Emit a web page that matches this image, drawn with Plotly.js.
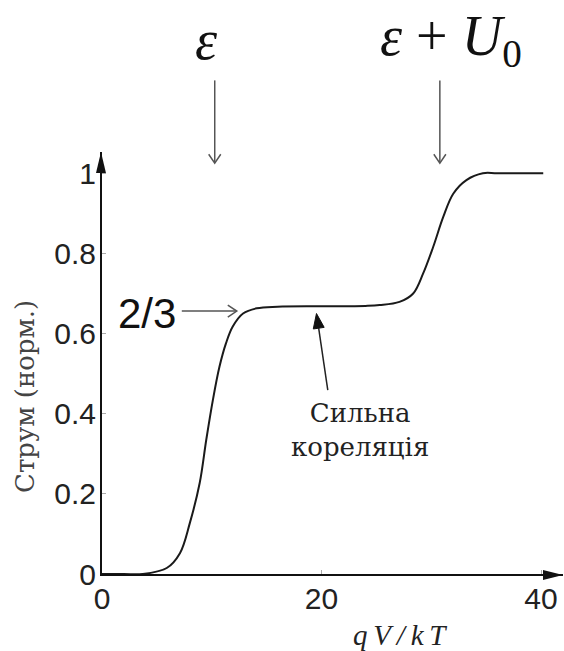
<!DOCTYPE html>
<html>
<head>
<meta charset="utf-8">
<script src="https://cdn.plot.ly/plotly-3.0.1.min.js"></script>
<style>
  html, body { margin: 0; padding: 0; background: #fff; }
  #chart { width: 564px; height: 651px; }
</style>
</head>
<body>
<div id="chart"></div>
<script>
// ---- data ----
const voltage = [0, 2, 3.7, 5.9, 7.1, 8.0, 8.9, 9.5, 10.1, 10.7, 11.3, 11.9, 12.85, 14.1, 16, 20, 24, 25.3, 27.1, 28.35, 29.26, 30.17, 31.09, 32.0, 33.2, 34.7, 36, 40.2];
const current = [0, 0, 0, 0.015, 0.052, 0.127, 0.227, 0.335, 0.434, 0.517, 0.576, 0.617, 0.650, 0.663, 0.667, 0.668, 0.669, 0.671, 0.679, 0.700, 0.750, 0.816, 0.891, 0.949, 0.983, 1.0, 1.0, 1.0];
const xTickVals = [0, 20, 40];
const xTickText = ['0', '20', '40'];
const yTickVals = [0, 0.2, 0.4, 0.6, 0.8, 1];
const yTickText = ['0', '0.2', '0.4', '0.6', '0.8', '1'];
const levelLabels = ['<i>ε</i>', '<i>ε</i> + <i>U</i><sub>0</sub>'];
const levelPositions = [10.27, 30.78];
const plateauLabel = '2/3';
const correlationLabel = 'Сильна<br>кореляція';
const xTitle = '<i>q\u2009V\u2009/\u2009k\u2009T</i>';
const yTitle = 'Струм (норм.)';

const trace = {
  x: voltage,
  y: current,
  type: 'scatter',
  mode: 'lines',
  line: { color: '#1a1a1a', width: 2, shape: 'spline', smoothing: 1 },
  hoverinfo: 'skip',
  showlegend: false
};

const sansTick = { family: 'Liberation Sans, Arial, sans-serif', size: 30, color: '#222' };

// decorative arrows (annotation pointers)
const grayArrow = { color: '#555', width: 1.5 };
function levelArrow(X) {
  return [
    { type: 'line', xref: 'x', yref: 'paper', x0: X, x1: X, y0: 1.1697, y1: 0.975, line: grayArrow },
    { type: 'path', xref: 'x', yref: 'paper',
      path: 'M ' + (X - 0.55) + ' 0.9946 L ' + X + ' 0.9733 L ' + (X + 0.55) + ' 0.9946',
      line: grayArrow }
  ];
}

const shapes = [
  // axis arrowheads
  { type: 'path', xref: 'paper', yref: 'paper',
    path: 'M 0.9566 0.0094 L 1 -0.0024 L 0.9566 -0.0142 Z',
    fillcolor: '#111', line: { width: 0 } },
  { type: 'path', xref: 'paper', yref: 'paper',
    path: 'M -0.0130 0.9503 L -0.0022 1 L 0.0086 0.9503 Z',
    fillcolor: '#111', line: { width: 0 } },
  ...levelArrow(levelPositions[0]),
  ...levelArrow(levelPositions[1]),
  // 2/3 pointer
  { type: 'line', xref: 'x', yref: 'y', x0: 7.27, x1: 12.2, y0: 0.656, y1: 0.656, line: grayArrow },
  { type: 'path', xref: 'x', yref: 'y',
    path: 'M 11.46 0.671 L 12.28 0.656 L 11.46 0.641', line: grayArrow },
  // strong-correlation pointer
  { type: 'line', xref: 'x', yref: 'y', x0: 20.57, y0: 0.459, x1: 19.74, y1: 0.6134,
    line: { color: '#222', width: 1.5 } },
  { type: 'path', xref: 'x', yref: 'y',
    path: 'M 19.54 0.650 L 20.24 0.6154 L 19.25 0.6114 Z',
    fillcolor: '#111', line: { color: '#111', width: 1 } }
];

const layout = {
  width: 564,
  height: 651,
  margin: { l: 102, r: 1, t: 152, b: 77 },
  paper_bgcolor: '#fff',
  plot_bgcolor: '#fff',
  showlegend: false,
  xaxis: {
    range: [0, 42],
    tickvals: xTickVals,
    ticktext: xTickText,
    showline: true, linecolor: '#111', linewidth: 2,
    ticks: 'inside', ticklen: 4, tickcolor: '#aaa', tickwidth: 1,
    ticklabelstandoff: -3,
    showgrid: false, zeroline: false,
    tickfont: sansTick,
    fixedrange: true
  },
  yaxis: {
    range: [0, 1.053],
    tickvals: yTickVals,
    ticktext: yTickText,
    showline: true, linecolor: '#111', linewidth: 2,
    ticks: 'inside', ticklen: 4, tickcolor: '#aaa', tickwidth: 1,
    ticklabelstandoff: -2,
    showgrid: false, zeroline: false,
    tickfont: sansTick,
    fixedrange: true
  },
  shapes: shapes,
  annotations: [
    // level labels above the plot
    { text: levelLabels[0], xref: 'x', yref: 'paper', x: 9.54, y: 1.266,
      showarrow: false, xanchor: 'center', yanchor: 'middle',
      font: { family: 'Liberation Serif, serif', size: 56, color: '#111' } },
    { text: levelLabels[1], xref: 'x', yref: 'paper', x: 31.79, y: 1.266,
      showarrow: false, xanchor: 'center', yanchor: 'middle',
      font: { family: 'Liberation Serif, serif', size: 56, color: '#111' } },
    // 2/3 label
    { text: plateauLabel, xref: 'x', yref: 'y', x: 4.12, y: 0.65,
      showarrow: false, xanchor: 'center', yanchor: 'middle',
      font: { family: 'Liberation Sans, Arial, sans-serif', size: 42, color: '#111' } },
    // strong correlation text
    { text: correlationLabel, xref: 'x', yref: 'y', x: 23.48, y: 0.36,
      showarrow: false, xanchor: 'center', yanchor: 'middle', align: 'center',
      font: { family: 'DejaVu Serif, serif', size: 26, color: '#222' } },
    // axis titles
    { text: xTitle, xref: 'paper', yref: 'paper', x: (400 - 102) / 461, y: (574.3 - 635) / 422.6,
      showarrow: false, xanchor: 'center', yanchor: 'middle',
      font: { family: 'Liberation Serif, serif', size: 29, color: '#222' } },
    { text: yTitle, xref: 'paper', yref: 'paper', x: (25 - 102) / 461, y: (574.3 - 397) / 422.6,
      showarrow: false, xanchor: 'center', yanchor: 'middle', textangle: -90,
      font: { family: 'DejaVu Serif, serif', size: 26, color: '#444' } }
  ]
};

Plotly.newPlot('chart', [trace], layout, { displayModeBar: false, staticPlot: true });
</script>
</body>
</html>
